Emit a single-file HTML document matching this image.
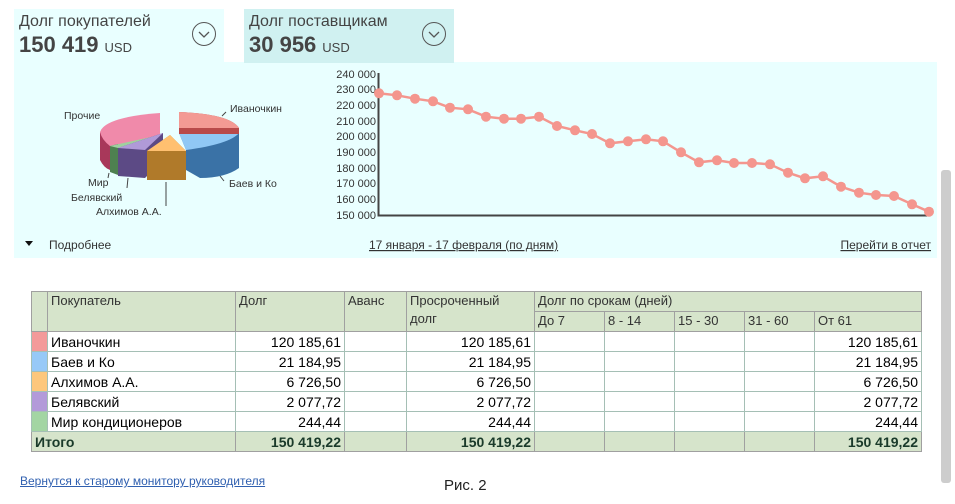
<!DOCTYPE html>
<html><head><meta charset="utf-8">
<style>
*{margin:0;padding:0;box-sizing:border-box}
body{width:955px;height:504px;background:#fff;position:relative;overflow:hidden;font-family:"Liberation Sans","DejaVu Sans",sans-serif;color:#333}
.abs{position:absolute}
.tile{position:absolute;top:9px;height:54px;width:210px}
.tt{position:absolute;left:5px;top:4px;font-size:16px;color:#444}
.tv{position:absolute;left:5px;top:23px;font-size:22px;font-weight:bold;color:#444}
.tv span{font-size:13px;font-weight:normal;margin-left:6px}
.circ{position:absolute;left:178px;top:13px;width:24px;height:24px;border:1px solid #555;border-radius:50%}
table{position:absolute;left:31px;top:291px;border-collapse:collapse;font-size:14px;color:#000;table-layout:fixed}
td{border:1px solid #a5bfb5;height:20px;padding:0 3px;white-space:nowrap;line-height:18px}
.h td{background:#d6e4cb;border-color:#a0a0a0;vertical-align:top;color:#333;font-size:13px}
.r{text-align:right}
.tot td{background:#d6e4cb;border-color:#a0a0a0;font-weight:bold;color:#1a3a2a}
a{color:#333}
</style></head><body>
<div class="abs" style="left:14px;top:62px;width:923px;height:196px;background:#e9ffff"></div>
<div class="tile" style="left:14px;background:#e9ffff"><div class="tt">Долг покупателей</div><div class="tv">150 419<span>USD</span></div><div class="circ"><svg width="22" height="22" style="position:absolute;left:0;top:0"><path d="M6 9 L11 14 L16 9" stroke="#555" fill="none" stroke-width="1.3"/></svg></div></div>
<div class="tile" style="left:244px;background:#d0f1f1"><div class="tt">Долг поставщикам</div><div class="tv">30 956<span>USD</span></div><div class="circ"><svg width="22" height="22" style="position:absolute;left:0;top:0"><path d="M6 9 L11 14 L16 9" stroke="#555" fill="none" stroke-width="1.3"/></svg></div></div>

<svg class="abs" style="left:0;top:0" width="955" height="260" font-family="Liberation Sans, sans-serif">
<path d="M100 132 L100 160 Q104 168 110 170 L110 146 Z" fill="#a8385a"/>
<path d="M100 132 Q105 117 160 113 L160 137 L110 146 Q102 140 100 132Z" fill="#f08aaa"/>
<path d="M110 146 L118 144 L118 175 L110 172Z" fill="#4e8050"/>
<path d="M110 146 L160 135 L118 148Z" fill="#9fd09f"/>
<path d="M118 148 L163 133 L163 160 L145 178 L118 176Z" fill="#5c4a85"/>
<path d="M118 148 L163 133 L145 150Z" fill="#b09ad8"/>
<path d="M147 151 L170 135 L186 151 L186 180 L147 180Z" fill="#b07a2a"/>
<path d="M147 151 L170 135 L186 151Z" fill="#ffc070"/>
<path d="M179 133 L239 133 L239 168 Q225 178 200 178 L186 170 L186 150 Z" fill="#3a72a6"/>
<path d="M179 133 L239 133 Q230 144 186 150Z" fill="#90c8f5"/>
<path d="M179 112 Q230 114 239 128 L239 134 L179 134Z" fill="#b94a4a"/>
<path d="M179 112 Q230 114 239 128 L179 128Z" fill="#f39a94"/>
<g font-size="10.5" fill="#333">
<text x="64" y="119">Прочие</text>
<text x="230" y="112">Иваночкин</text>
<text x="229" y="187">Баев и Ко</text>
<text x="88" y="186">Мир</text>
<text x="71" y="201">Белявский</text>
<text x="96" y="215">Алхимов А.А.</text>
</g>
<g stroke="#444" stroke-width="1"><line x1="109" y1="173" x2="108" y2="178"/><line x1="128" y1="178" x2="127" y2="188"/><line x1="166" y1="182" x2="166" y2="206"/><line x1="226" y1="112" x2="222" y2="116"/><line x1="224" y1="181" x2="220" y2="176"/></g>
<g font-size="11" fill="#333" text-anchor="end">
<text x="376" y="78">240 000</text><text x="376" y="93">230 000</text><text x="376" y="109">220 000</text><text x="376" y="125">210 000</text><text x="376" y="140">200 000</text><text x="376" y="156">190 000</text><text x="376" y="172">180 000</text><text x="376" y="187">170 000</text><text x="376" y="203">160 000</text><text x="376" y="219">150 000</text>
</g>
<path d="M378.5 73 V215.5 H930" fill="none" stroke="#444" stroke-width="2"/>
<polyline fill="none" stroke="#f4968e" stroke-width="2.5" points="379,93.3 397,95.3 415,98.7 433,101.3 450,107.7 468,109.3 486,116.7 504,118.7 521,118.7 539,116.7 557,126 575,130.3 592,134 610,143.3 628,141.3 646,139.3 663,141.3 681,152.3 699,162.3 717,160.3 734,163 752,163 770,164.3 788,172.7 805,178.3 823,176.3 841,186.7 859,192.7 876,195 894,196 912,204.3 929,211.7"/>
<g fill="#f4968e">
<circle cx="379" cy="93.3" r="5"/><circle cx="397" cy="95.3" r="5"/><circle cx="415" cy="98.7" r="5"/><circle cx="433" cy="101.3" r="5"/><circle cx="450" cy="107.7" r="5"/><circle cx="468" cy="109.3" r="5"/><circle cx="486" cy="116.7" r="5"/><circle cx="504" cy="118.7" r="5"/><circle cx="521" cy="118.7" r="5"/><circle cx="539" cy="116.7" r="5"/><circle cx="557" cy="126" r="5"/><circle cx="575" cy="130.3" r="5"/><circle cx="592" cy="134" r="5"/><circle cx="610" cy="143.3" r="5"/><circle cx="628" cy="141.3" r="5"/><circle cx="646" cy="139.3" r="5"/><circle cx="663" cy="141.3" r="5"/><circle cx="681" cy="152.3" r="5"/><circle cx="699" cy="162.3" r="5"/><circle cx="717" cy="160.3" r="5"/><circle cx="734" cy="163" r="5"/><circle cx="752" cy="163" r="5"/><circle cx="770" cy="164.3" r="5"/><circle cx="788" cy="172.7" r="5"/><circle cx="805" cy="178.3" r="5"/><circle cx="823" cy="176.3" r="5"/><circle cx="841" cy="186.7" r="5"/><circle cx="859" cy="192.7" r="5"/><circle cx="876" cy="195" r="5"/><circle cx="894" cy="196" r="5"/><circle cx="912" cy="204.3" r="5"/><circle cx="929" cy="211.7" r="5"/>
</g>
<path d="M25 241 L33 241 L29 246Z" fill="#111"/>
<g font-size="12" fill="#333"><text x="49" y="249">Подробнее</text>
<text x="369" y="249" text-decoration="underline">17 января - 17 февраля (по дням)</text>
<text x="931" y="249" text-anchor="end" text-decoration="underline">Перейти в отчет</text></g>
</svg>

<table>
<colgroup><col style="width:16px"><col style="width:188px"><col style="width:109px"><col style="width:62px"><col style="width:128px"><col style="width:70px"><col style="width:70px"><col style="width:70px"><col style="width:70px"><col style="width:107px"></colgroup>
<tr class="h"><td rowspan="2"></td><td rowspan="2">Покупатель</td><td rowspan="2">Долг</td><td rowspan="2">Аванс</td><td rowspan="2">Просроченный<br>долг</td><td colspan="5">Долг по срокам (дней)</td></tr>
<tr class="h"><td>До 7</td><td>8 - 14</td><td>15 - 30</td><td>31 - 60</td><td>От 61</td></tr>
<tr><td style="background:#f39a9a"></td><td>Иваночкин</td><td class="r">120 185,61</td><td></td><td class="r">120 185,61</td><td></td><td></td><td></td><td></td><td class="r">120 185,61</td></tr>
<tr><td style="background:#97c9f7"></td><td>Баев и Ко</td><td class="r">21 184,95</td><td></td><td class="r">21 184,95</td><td></td><td></td><td></td><td></td><td class="r">21 184,95</td></tr>
<tr><td style="background:#fdc77c"></td><td>Алхимов А.А.</td><td class="r">6 726,50</td><td></td><td class="r">6 726,50</td><td></td><td></td><td></td><td></td><td class="r">6 726,50</td></tr>
<tr><td style="background:#b39ad9"></td><td>Белявский</td><td class="r">2 077,72</td><td></td><td class="r">2 077,72</td><td></td><td></td><td></td><td></td><td class="r">2 077,72</td></tr>
<tr><td style="background:#a3d5a3"></td><td>Мир кондиционеров</td><td class="r">244,44</td><td></td><td class="r">244,44</td><td></td><td></td><td></td><td></td><td class="r">244,44</td></tr>
<tr class="tot"><td colspan="2">Итого</td><td class="r">150 419,22</td><td></td><td class="r">150 419,22</td><td></td><td></td><td></td><td></td><td class="r">150 419,22</td></tr>
</table>

<div class="abs" style="left:941px;top:170px;width:10px;height:313px;background:#cdcdcd;border-radius:3px"></div>
<div class="abs" style="left:20px;top:474px;font-size:12px;color:#3060b0;text-decoration:underline">Вернутся к старому монитору руководителя</div>
<div class="abs" style="left:444px;top:477px;font-size:15px;color:#222">Рис. 2</div>
</body></html>
